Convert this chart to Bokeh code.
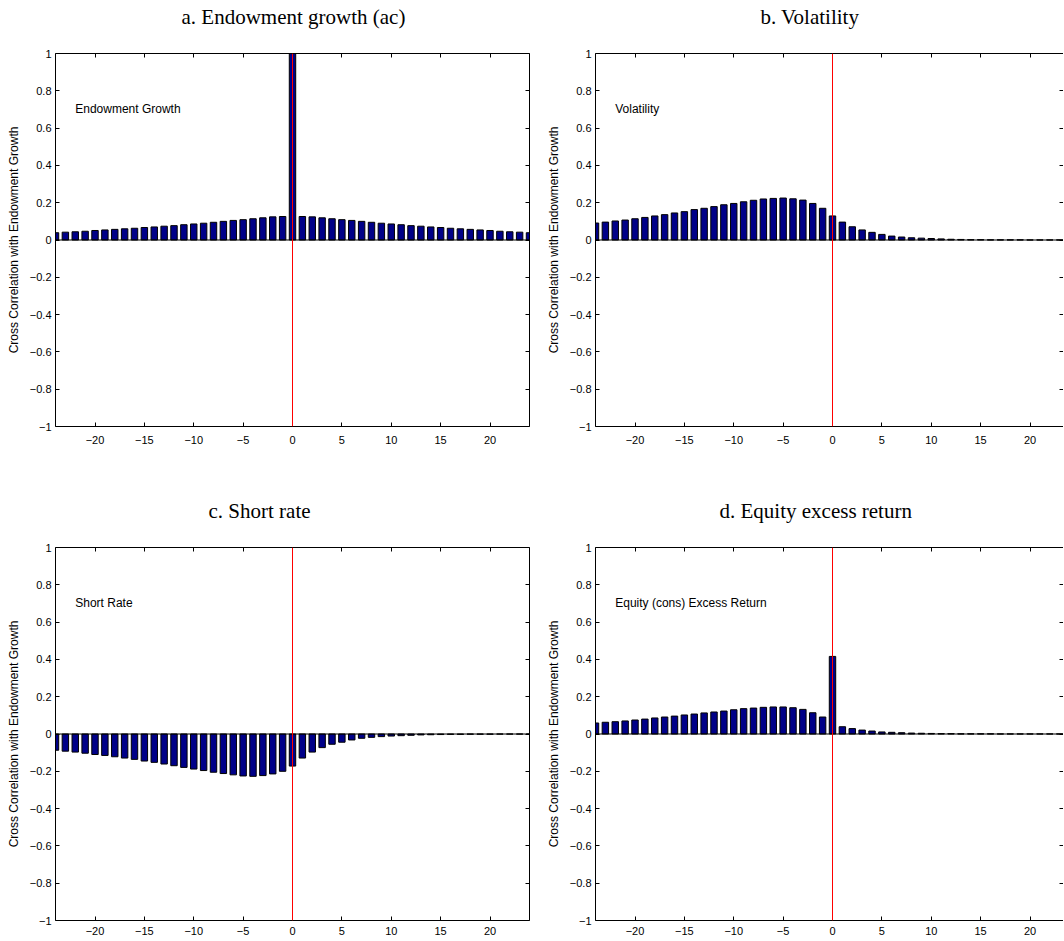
from bokeh.plotting import figure
from bokeh.models import Range1d, FixedTicker, LinearAxis, Span, Label
from bokeh.layouts import row, column
from bokeh.embed import file_html
from bokeh.resources import INLINE

# ---------------- data ----------------
lags = list(range(-24, 25))

endowment = [0.039, 0.042, 0.044, 0.047, 0.051, 0.054, 0.057, 0.060, 0.063, 0.067,
             0.070, 0.074, 0.077, 0.082, 0.086, 0.090, 0.095, 0.100, 0.105, 0.109,
             0.114, 0.119, 0.124, 0.126,
             1.0,
             0.126, 0.124, 0.119, 0.114, 0.109, 0.105, 0.100, 0.095, 0.090, 0.086,
             0.082, 0.077, 0.074, 0.070, 0.067, 0.063, 0.060, 0.057, 0.054, 0.051,
             0.047, 0.044, 0.042, 0.039]

volatility = [0.091, 0.096, 0.102, 0.107, 0.114, 0.121, 0.129, 0.136, 0.145, 0.152,
              0.163, 0.170, 0.179, 0.189, 0.196, 0.205, 0.213, 0.220, 0.223, 0.225,
              0.221, 0.214, 0.196, 0.170,
              0.129,
              0.096, 0.071, 0.054, 0.041, 0.030, 0.021, 0.016, 0.012, 0.010, 0.008,
              0.006, 0.004, 0.003, 0.002, 0.002, 0.001, 0.001, 0.001, 0.001, 0.0005,
              0.0005, 0.0005, 0.0005, 0.0005]

short_rate = [-0.087, -0.092, -0.097, -0.103, -0.110, -0.115, -0.122, -0.129, -0.136, -0.145,
              -0.152, -0.161, -0.170, -0.179, -0.188, -0.196, -0.205, -0.212, -0.219, -0.225,
              -0.227, -0.223, -0.214, -0.200,
              -0.172,
              -0.129, -0.097, -0.073, -0.055, -0.044, -0.032, -0.023, -0.018, -0.014, -0.011,
              -0.009, -0.007, -0.005, -0.004, -0.003, -0.002, -0.002, -0.001, -0.001, -0.001,
              -0.0005, -0.0005, -0.0005, -0.0005]

equity = [0.059, 0.063, 0.066, 0.070, 0.075, 0.080, 0.086, 0.091, 0.096, 0.102,
          0.107, 0.113, 0.118, 0.123, 0.130, 0.136, 0.139, 0.143, 0.145, 0.145,
          0.141, 0.132, 0.114, 0.091,
          0.416,
          0.039, 0.029, 0.021, 0.016, 0.011, 0.009, 0.007, 0.005, 0.004, 0.003,
          0.002, 0.002, 0.001, 0.001, 0.001, 0.001, 0.0005, 0.0005, 0.0005, 0.0005,
          0.0005, 0.0005, 0.0005, 0.0005]

titles = ["a. Endowment growth (ac)", "b. Volatility", "c. Short rate", "d. Equity excess return"]
notes = ["Endowment Growth", "Volatility", "Short Rate", "Equity (cons) Excess Return"]
y_label = "Cross Correlation with Endowment Growth"

x_ticks = [-20, -15, -10, -5, 0, 5, 10, 15, 20]
x_tick_labels = ["\u221220", "\u221215", "\u221210", "\u22125", "0", "5", "10", "15", "20"]
y_ticks = [-1, -0.8, -0.6, -0.4, -0.2, 0, 0.2, 0.4, 0.6, 0.8, 1]
y_tick_labels = ["\u22121", "\u22120.8", "\u22120.6", "\u22120.4", "\u22120.2", "0",
                 "0.2", "0.4", "0.6", "0.8", "1"]

BAR_COLOR = "#000088"
SANS = "Liberation Sans"
SERIF = "Liberation Serif"


def style_axis(ax, show_labels):
    ax.axis_line_color = "black"
    ax.axis_line_width = 1
    ax.major_tick_line_color = "black"
    ax.major_tick_in = 4
    ax.major_tick_out = 0
    ax.minor_tick_in = 0
    ax.minor_tick_out = 0
    ax.major_label_text_font = SANS
    if show_labels:
        ax.major_label_text_color = "black"
        ax.major_label_text_font_size = "11px"
    else:
        ax.major_label_text_color = None
        ax.major_label_text_font_size = "0px"
        ax.major_label_standoff = 0


def make_panel(vals, title, note, title_offset, frame_w, x_end, bl, br, bt, bb,
               x_standoff, edge_cut):
    # two-line title (second line blank) lifts the caption well above the axes box
    p = figure(title=title + "\n ", frame_width=frame_w, frame_height=373,
               x_range=Range1d(-24, x_end), y_range=Range1d(-1, 1),
               output_backend="svg", toolbar_location=None,
               min_border_left=bl, min_border_right=br,
               min_border_top=bt, min_border_bottom=bb,
               x_axis_location=None, y_axis_location=None)
    p.title.align = "left"
    p.title.offset = title_offset
    p.title.standoff = 2
    p.title.vertical_align = "bottom"
    p.title.text_font = SERIF
    p.title.text_font_size = "21px"
    p.title.text_font_style = "normal"
    p.title.text_color = "black"

    p.grid.visible = False
    p.outline_line_color = None
    p.background_fill_color = "white"
    p.border_fill_color = "white"

    xo = dict(zip(x_ticks, x_tick_labels))
    yo = dict(zip(y_ticks, y_tick_labels))

    xb = LinearAxis(ticker=FixedTicker(ticks=x_ticks), major_label_overrides=xo)
    style_axis(xb, True)
    xb.major_label_standoff = x_standoff
    p.add_layout(xb, "below")

    xa = LinearAxis(ticker=FixedTicker(ticks=x_ticks))
    style_axis(xa, False)
    p.add_layout(xa, "above")

    yl = LinearAxis(ticker=FixedTicker(ticks=y_ticks), major_label_overrides=yo,
                    axis_label=y_label)
    style_axis(yl, True)
    yl.major_label_standoff = 4
    yl.axis_label_text_font = SANS
    yl.axis_label_text_font_size = "12px"
    yl.axis_label_text_font_style = "normal"
    yl.axis_label_text_color = "black"
    yl.axis_label_standoff = 6
    p.add_layout(yl, "left")

    yr = LinearAxis(ticker=FixedTicker(ticks=y_ticks))
    style_axis(yr, False)
    if edge_cut:
        # right edge of this box lies at the page edge: only the tick stubs show
        yr.axis_line_color = None
    p.add_layout(yr, "right")

    p.vbar(x=lags, top=vals, bottom=0, width=0.65,
           fill_color=BAR_COLOR, line_color="black", line_width=1)

    p.add_layout(Span(location=0, dimension="width", line_color="black", line_width=1,
                      level="overlay"))
    p.add_layout(Span(location=0, dimension="height", line_color="#ff0000", line_width=1,
                      level="overlay"))

    p.add_layout(Label(x=-22, y=0.7, text=note, text_baseline="middle", text_align="left",
                       text_font=SANS, text_font_size="12px", text_color="black"))
    return p


# right-hand boxes run to the page edge (cut there), same scale as the left ones
px_per_lag = 474 / 48.0
right_w = 468
right_end = -24 + right_w / px_per_lag

pa = make_panel(endowment, titles[0], notes[0], 126, 474, 24, 55, 10, 53, 68, 9, False)
pb = make_panel(volatility, titles[1], notes[1], 165, right_w, right_end, 56, 0, 53, 68, 9, True)
pc = make_panel(short_rate, titles[2], notes[2], 153, 474, 24, 55, 10, 53, 20, 6, False)
pd = make_panel(equity, titles[3], notes[3], 124, right_w, right_end, 56, 0, 53, 20, 6, True)

layout = column(row(pa, pb), row(pc, pd))

open("out.html", "w").write(file_html(layout, INLINE))
